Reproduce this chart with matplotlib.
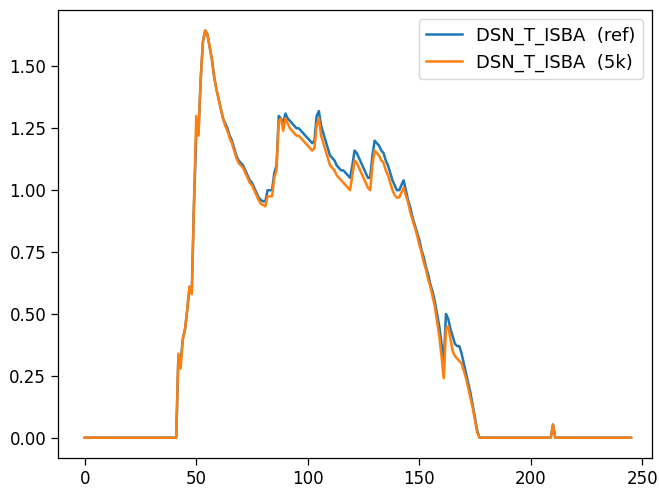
import matplotlib
matplotlib.use("Agg")
import matplotlib.pyplot as plt
import numpy as np

# time steps 0..245
n_steps = 246
onset = 42          # first non-zero step
spike_step = 210    # small isolated bump near the end

ref_active = [
    0.33, 0.31, 0.40, 0.44, 0.52, 0.61, 0.59, 0.95, 1.22, 1.23,      # 42-51
    1.45, 1.60, 1.645, 1.63, 1.58, 1.53, 1.46, 1.41, 1.37, 1.33,     # 52-61
    1.29, 1.27, 1.25, 1.22, 1.20, 1.17, 1.14, 1.12, 1.11, 1.10,      # 62-71
    1.08, 1.06, 1.04, 1.03, 1.01, 0.99, 0.97, 0.96, 0.955, 0.955,    # 72-81
    1.00, 1.00, 1.00, 1.07, 1.10, 1.30, 1.29, 1.27, 1.31, 1.29,      # 82-91
    1.28, 1.27, 1.26, 1.25, 1.25, 1.24, 1.23, 1.22, 1.21, 1.20,      # 92-101
    1.19, 1.20, 1.30, 1.32, 1.26, 1.23, 1.20, 1.17, 1.14, 1.13,      # 102-111
    1.12, 1.10, 1.09, 1.08, 1.08, 1.07, 1.06, 1.05, 1.10, 1.16,      # 112-121
    1.15, 1.13, 1.11, 1.09, 1.07, 1.05, 1.05, 1.14, 1.20, 1.19,      # 122-131
    1.18, 1.16, 1.15, 1.12, 1.10, 1.07, 1.04, 1.02, 1.00, 1.00,      # 132-141
    1.02, 1.04, 1.00, 0.96, 0.93, 0.89, 0.86, 0.83, 0.80, 0.76,      # 142-151
    0.73, 0.69, 0.66, 0.62, 0.59, 0.55, 0.50, 0.45, 0.38, 0.30,      # 152-161
    0.50, 0.48, 0.44, 0.41, 0.38, 0.37, 0.37, 0.34, 0.30, 0.26,      # 162-171
    0.22, 0.18, 0.13, 0.08, 0.03, 0.00, 0.00,                        # 172-178
]
k5_active = [
    0.34, 0.28, 0.40, 0.44, 0.52, 0.61, 0.58, 0.95, 1.30, 1.22,      # 42-51
    1.45, 1.60, 1.645, 1.63, 1.58, 1.53, 1.46, 1.41, 1.37, 1.33,     # 52-61
    1.29, 1.26, 1.24, 1.21, 1.19, 1.16, 1.13, 1.11, 1.10, 1.09,      # 62-71
    1.07, 1.05, 1.03, 1.02, 1.00, 0.98, 0.96, 0.945, 0.94, 0.935,    # 72-81
    0.975, 0.975, 0.975, 1.05, 1.08, 1.28, 1.29, 1.24, 1.29, 1.27,   # 82-91
    1.25, 1.24, 1.23, 1.22, 1.22, 1.21, 1.20, 1.19, 1.18, 1.17,      # 92-101
    1.16, 1.17, 1.26, 1.29, 1.22, 1.19, 1.16, 1.13, 1.10, 1.09,      # 102-111
    1.08, 1.06, 1.05, 1.04, 1.03, 1.02, 1.01, 1.00, 1.06, 1.12,      # 112-121
    1.11, 1.09, 1.07, 1.05, 1.03, 1.01, 1.00, 1.10, 1.16, 1.15,      # 122-131
    1.14, 1.12, 1.11, 1.08, 1.06, 1.03, 1.00, 0.98, 0.97, 0.97,      # 132-141
    0.99, 1.01, 0.98, 0.95, 0.91, 0.88, 0.85, 0.82, 0.78, 0.75,      # 142-151
    0.71, 0.68, 0.64, 0.61, 0.57, 0.53, 0.47, 0.41, 0.33, 0.24,      # 152-161
    0.44, 0.45, 0.40, 0.35, 0.33, 0.32, 0.31, 0.30, 0.27, 0.24,      # 162-171
    0.20, 0.16, 0.12, 0.07, 0.02, 0.00, 0.00,                        # 172-178
]
spike_value = 0.053

labels = ["DSN_T_ISBA  (ref)", "DSN_T_ISBA  (5k)"]


def full_series(active):
    s = np.zeros(n_steps)
    s[onset:onset + len(active)] = active
    s[spike_step] = spike_value
    return s


ref = full_series(ref_active)
k5 = full_series(k5_active)
steps = np.arange(n_steps)

fig = plt.figure(figsize=(6.59, 4.88), dpi=100)
ax = fig.add_axes([58 / 659, 30 / 488, 594 / 659, 448 / 488])
ax.plot(steps, ref, color="#1f77b4", lw=1.8, label=labels[0])
ax.plot(steps, k5, color="#ff7f0e", lw=1.8, label=labels[1])

ax.set_xlim(-12.0, 254.4)
ax.set_ylim(-0.082, 1.728)
ax.set_yticks([0.0, 0.25, 0.5, 0.75, 1.0, 1.25, 1.5])
ax.yaxis.set_major_formatter(matplotlib.ticker.FormatStrFormatter("%.2f"))
ax.tick_params(labelsize=12, length=5, width=0.9)
for sp in ax.spines.values():
    sp.set_linewidth(0.9)

ax.legend(loc="upper right", fontsize=13, handlelength=2.0)

fig.savefig("out.png", dpi=100)
